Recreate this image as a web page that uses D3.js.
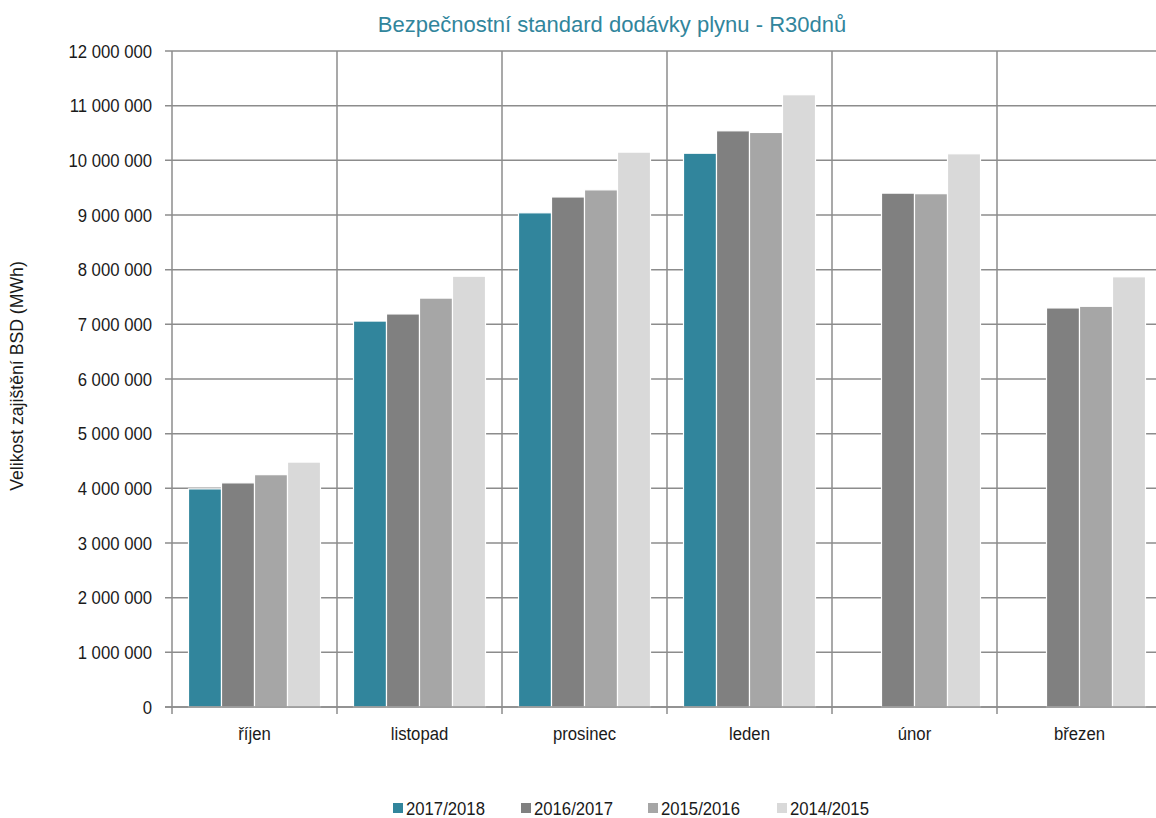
<!DOCTYPE html>
<html>
<head>
<meta charset="utf-8">
<script src="https://cdn.jsdelivr.net/npm/d3@7"></script>
<style>
  body { margin: 0; background: #fff; }
  text { font-family: "Liberation Sans", Arial, sans-serif; fill: #1a1a1a; }
</style>
</head>
<body>
<div id="container"></div>
<script>
var months = ["říjen", "listopad", "prosinec", "leden", "únor", "březen"];
var seasons = ["2017/2018", "2016/2017", "2015/2016", "2014/2015"];
var colors = ["#31859c", "#808080", "#a6a6a6", "#d9d9d9"];

// MWh, null = no data yet
var v1718 = [3990000, 7060000, 9040000, 10130000, null, null];
var v1617 = [4100000, 7190000, 9330000, 10540000, 9400000, 7300000];
var v1516 = [4250000, 7480000, 9460000, 10510000, 9390000, 7330000];
var v1415 = [4480000, 7880000, 10150000, 11200000, 10120000, 7870000];

var yTicks = d3.range(0, 12000001, 1000000);

var series = [v1718, v1617, v1516, v1415];

var W = 1156, H = 818;
var mLeft = 172, mTop = 51, mBottom = 707;
var narrow = ' scale(0.88,1)';

var svg = d3.select('#container').append('svg')
  .attr('width', W).attr('height', H);

var x = d3.scaleBand().domain(months).range([mLeft, mLeft + 6 * 165]).padding(0);
var xs = d3.scaleBand().domain(seasons).range([0, x.bandwidth()])
  .paddingInner(0).paddingOuter(0.5);
var y = d3.scaleLinear().domain([0, 12000000]).range([mBottom, mTop]);

var fmt = function(d) { return d3.format(",")(d).replace(/,/g, " "); };

// horizontal grid
svg.append('g').selectAll('line').data(yTicks).enter().append('line')
  .attr('x1', mLeft - 7).attr('x2', W)
  .attr('y1', function(d) { return y(d); })
  .attr('y2', function(d) { return y(d); })
  .attr('stroke', '#8c8c8c').attr('stroke-width', 1.5);

// vertical grid at category edges
var edges = months.map(function(m) { return x(m); }).concat([x(months[5]) + x.bandwidth()]);
svg.append('g').selectAll('line').data(edges).enter().append('line')
  .attr('x1', function(d) { return d; }).attr('x2', function(d) { return d; })
  .attr('y1', mTop).attr('y2', mBottom + 7)
  .attr('stroke', '#8c8c8c').attr('stroke-width', 1.5);

// y labels
svg.append('g').selectAll('text').data(yTicks).enter().append('text')
  .attr('transform', function(d) { return 'translate(' + (mLeft - 20) + ',' + y(d) + ')' + narrow; })
  .attr('dy', '0.35em')
  .attr('text-anchor', 'end')
  .style('font-size', '19px')
  .text(fmt);

// bars
var groups = svg.append('g').selectAll('g').data(months).enter().append('g')
  .attr('transform', function(d) { return 'translate(' + x(d) + ',0)'; });

groups.selectAll('rect')
  .data(function(m, i) {
    return seasons.map(function(s, j) { return { s: s, j: j, v: series[j][i] }; })
      .filter(function(d) { return d.v != null; });
  })
  .enter().append('rect')
  .attr('x', function(d) { return xs(d.s); })
  .attr('width', xs.bandwidth())
  .attr('y', function(d) { return y(d.v); })
  .attr('height', function(d) { return mBottom - y(d.v); })
  .attr('fill', function(d) { return colors[d.j]; })
  .attr('stroke', '#fff').attr('stroke-width', 1.2);

// baseline
svg.append('line').attr('x1', mLeft - 7).attr('x2', W)
  .attr('y1', mBottom).attr('y2', mBottom)
  .attr('stroke', '#8c8c8c').attr('stroke-width', 1.5);

// x labels
svg.append('g').selectAll('text').data(months).enter().append('text')
  .attr('transform', function(d) { return 'translate(' + (x(d) + x.bandwidth() / 2) + ',740)' + narrow; })
  .attr('text-anchor', 'middle')
  .style('font-size', '19px')
  .text(function(d) { return d; });

// title
svg.append('text')
  .attr('x', 612).attr('y', 32)
  .attr('text-anchor', 'middle')
  .style('font-size', '22px')
  .style('fill', '#31859c')
  .text('Bezpečnostní standard dodávky plynu - R30dnů');

// y title
svg.append('text')
  .attr('transform', 'translate(23,376) rotate(-90) scale(0.93,1)')
  .attr('text-anchor', 'middle')
  .style('font-size', '19px')
  .text('Velikost zajištění BSD (MWh)');

// legend
var legX = [393, 521, 648, 777];
var leg = svg.append('g').selectAll('g').data(seasons).enter().append('g')
  .attr('transform', function(d, i) { return 'translate(' + legX[i] + ',808)'; });
leg.append('rect').attr('x', 0).attr('y', -5).attr('width', 10).attr('height', 10)
  .attr('fill', function(d, i) { return colors[i]; });
leg.append('text').attr('transform', 'translate(13,0)' + narrow).attr('dy', '0.35em')
  .style('font-size', '19px')
  .text(function(d) { return d; });
</script>
</body>
</html>
